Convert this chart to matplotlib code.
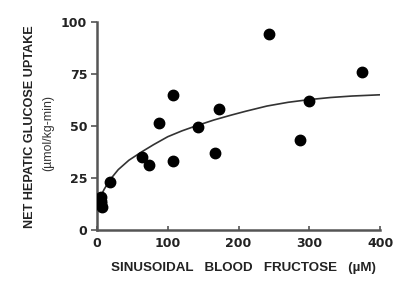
import matplotlib
matplotlib.use("Agg")
import matplotlib.pyplot as plt

# scatter data
fructose = [5, 5, 6, 7, 18, 64, 74, 88, 107, 108, 142, 166, 172, 243, 287, 299, 375]
uptake = [16, 14, 13, 11, 23, 35, 31, 51.5, 33, 65, 49.5, 37, 58, 94, 43, 62, 76]

# fitted curve, points
curve_x = [5, 10, 18, 30, 45, 63, 80, 100, 120, 140, 165, 190, 210, 240, 270, 300, 330, 360, 400]
curve_y = [16, 19.5, 24, 29, 33.5, 37.5, 41, 44.8, 47.6, 50, 52.8, 55.2, 57, 59.5, 61.3, 62.6, 63.6, 64.3, 64.9]

xticks = [0, 100, 200, 300, 400]
yticks = [0, 25, 50, 75, 100]

plt.rcParams['font.family'] = ['Liberation Sans', 'DejaVu Sans']

fig = plt.figure(figsize=(4.11, 2.88), dpi=100)
ax = fig.add_axes([0.236, 0.201, 0.689, 0.724])

ax.plot(curve_x, curve_y, color='#333333', lw=1.2, zorder=2)
ax.plot(fructose, uptake, 'o', color='black', ms=7.5, zorder=3)

ax.set_xlim(0, 400)
ax.set_ylim(0, 100)
ax.set_xticks(xticks)
ax.set_yticks(yticks)
ax.set_xticklabels([str(t) for t in xticks], fontsize=9, fontweight='bold',
                   color='#222222', family='DejaVu Sans')
ax.set_yticklabels([str(t) for t in yticks], fontsize=9, fontweight='bold',
                   color='#222222', family='DejaVu Sans')

for s in ['top', 'right']:
    ax.spines[s].set_visible(False)
for s in ['left', 'bottom']:
    ax.spines[s].set_linewidth(1.8)
    ax.spines[s].set_color('#555555')
ax.tick_params(axis='y', direction='out', length=4, width=1.2, color='#555555', pad=3)
ax.tick_params(axis='x', direction='in', length=3, width=1.2, color='#555555', pad=5)

fig.text(243 / 411, 1 - 268 / 288, 'SINUSOIDAL   BLOOD   FRUCTOSE   (\u00b5M)',
         ha='center', va='center', fontsize=9.6, fontweight='bold', color='#222222')
fig.text(30 / 411, 1 - 127 / 288, 'NET HEPATIC GLUCOSE UPTAKE',
         ha='center', va='center', rotation=90, fontsize=9.1, fontweight='bold', color='#222222')
fig.text(48 / 411, 1 - 133 / 288, '(\u00b5mol/kg-min)',
         ha='center', va='center', rotation=90, fontsize=8.8, color='#333333')

fig.savefig('out.png', dpi=100)
